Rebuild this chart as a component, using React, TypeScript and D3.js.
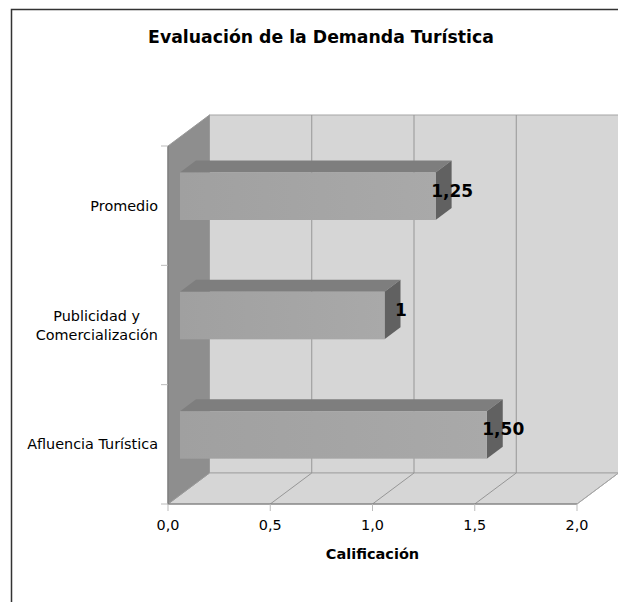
import React, { useEffect, useRef } from "react";
import * as d3 from "d3";

const categories = ["Promedio", "Publicidad y|Comercialización", "Afluencia Turística"];
const values = [1.25, 1, 1.5];
const valueLabels = ["1,25", "1", "1,50"];
const xTicks = [0, 0.5, 1, 1.5, 2];
const chartTitle = "Evaluación de la Demanda Turística";
const xTitle = "Calificación";

const FONT = "'DejaVu Sans', Verdana, sans-serif";

const App = () => {
  const svgRef = useRef<SVGSVGElement | null>(null);

  useEffect(() => {
    const svg = d3.select(svgRef.current);
    svg.selectAll("*").remove();

    const x = d3.scaleLinear().domain([0, 2]).range([168, 577]);
    const y = d3.scaleBand().domain(categories).range([146, 504]);
    const depthX = 41.5,
      depthY = 31;
    const barDepthX = 16,
      barDepthY = 12;
    const barStart = 12;
    const pts = (p: number[][]) => p.map((d) => d.join(",")).join(" ");

    const defs = svg.append("defs");
    const grad = defs.append("linearGradient").attr("id", "barFront");
    grad.append("stop").attr("offset", "0%").attr("stop-color", "#a0a0a0");
    grad.append("stop").attr("offset", "100%").attr("stop-color", "#a9a9a9");

    // page frame, open on the right and at the bottom
    svg
      .append("path")
      .attr("d", "M11.5,602V9.5H618")
      .attr("fill", "none")
      .attr("stroke", "#333")
      .attr("stroke-width", 1.5);

    svg
      .append("text")
      .attr("x", 321)
      .attr("y", 42.5)
      .attr("text-anchor", "middle")
      .attr("font-size", 17.3)
      .attr("font-weight", "bold")
      .text(chartTitle);

    const x0 = x(0),
      x1 = x(2),
      top = y.range()[0],
      bottom = y.range()[1];

    // back wall
    svg
      .append("rect")
      .attr("x", x0 + depthX)
      .attr("y", top - depthY)
      .attr("width", x1 - x0)
      .attr("height", bottom - top)
      .attr("fill", "#d6d6d6")
      .attr("stroke", "#a6a6a6");
    // floor
    svg
      .append("polygon")
      .attr(
        "points",
        pts([
          [x0, bottom],
          [x1, bottom],
          [x1 + depthX, bottom - depthY],
          [x0 + depthX, bottom - depthY],
        ])
      )
      .attr("fill", "#d6d6d6")
      .attr("stroke", "#a6a6a6");
    // left wall
    svg
      .append("polygon")
      .attr(
        "points",
        pts([
          [x0, top],
          [x0 + depthX, top - depthY],
          [x0 + depthX, bottom - depthY],
          [x0, bottom],
        ])
      )
      .attr("fill", "#8e8e8e")
      .attr("stroke", "#999");

    // gridlines on wall and floor
    svg
      .selectAll("path.grid")
      .data(xTicks.slice(1))
      .enter()
      .append("path")
      .attr("class", "grid")
      .attr("fill", "none")
      .attr("stroke", (d) => (d === 2 ? "#a6a6a6" : "#969696"))
      .attr(
        "d",
        (d) =>
          `M${x(d)},${bottom}L${x(d) + depthX},${bottom - depthY}V${top - depthY}`
      );

    // axis lines and ticks
    svg
      .append("path")
      .attr("d", `M${x0},${top}V${bottom}H${x1}`)
      .attr("fill", "none")
      .attr("stroke", "#777")
      .attr("stroke-width", 1.2);

    const yTicks = [...categories.map((c) => y(c) as number), bottom];
    svg
      .selectAll("line.ytick")
      .data(yTicks)
      .enter()
      .append("line")
      .attr("class", "ytick")
      .attr("x1", x0 - 7)
      .attr("x2", x0)
      .attr("y1", (d) => d)
      .attr("y2", (d) => d)
      .attr("stroke", "#bbb");

    svg
      .selectAll("line.xtick")
      .data(xTicks)
      .enter()
      .append("line")
      .attr("class", "xtick")
      .attr("x1", (d) => x(d))
      .attr("x2", (d) => x(d))
      .attr("y1", bottom)
      .attr("y2", bottom + 7)
      .attr("stroke", "#bbb");

    // bars
    const bar = svg
      .selectAll("g.bar")
      .data(categories)
      .enter()
      .append("g")
      .attr("class", "bar");

    const barLeft = x0 + barStart;
    const barRight = (i: number) => barLeft + x(values[i]) - x0;
    const barTop = (c: string) => (y(c) as number) + 26.5;
    const barH = 47.5;

    bar
      .append("polygon")
      .attr("points", (c, i) =>
        pts([
          [barLeft, barTop(c)],
          [barLeft + barDepthX, barTop(c) - barDepthY],
          [barRight(i) + barDepthX, barTop(c) - barDepthY],
          [barRight(i), barTop(c)],
        ])
      )
      .attr("fill", "#7e7e7e");
    bar
      .append("polygon")
      .attr("points", (c, i) =>
        pts([
          [barRight(i), barTop(c)],
          [barRight(i) + barDepthX, barTop(c) - barDepthY],
          [barRight(i) + barDepthX, barTop(c) + barH - barDepthY],
          [barRight(i), barTop(c) + barH],
        ])
      )
      .attr("fill", "#616161");
    bar
      .append("rect")
      .attr("x", barLeft)
      .attr("y", barTop)
      .attr("width", (c, i) => barRight(i) - barLeft)
      .attr("height", barH)
      .attr("fill", "url(#barFront)");

    bar
      .append("text")
      .attr("x", (c, i) => barRight(i) + barDepthX + 0.5)
      .attr("y", (c) => barTop(c) + 24)
      .attr("text-anchor", "middle")
      .attr("font-size", 17)
      .attr("font-weight", "bold")
      .text((c, i) => valueLabels[i]);

    // category labels
    svg
      .selectAll("text.cat")
      .data(categories)
      .enter()
      .append("text")
      .attr("class", "cat")
      .attr("text-anchor", "end")
      .attr("font-size", 14.4)
      .each(function (c) {
        const lines = c.split("|");
        const mid = (y(c) as number) + y.bandwidth() / 2 + 5;
        const t = d3.select(this);
        lines.forEach((line, k) => {
          t.append("tspan")
            .attr("x", lines.length > 1 && k === 0 ? 140 : 158)
            .attr("y", mid + (k - (lines.length - 1) / 2) * 19)
            .text(line);
        });
      });

    svg
      .selectAll("text.xlab")
      .data(xTicks)
      .enter()
      .append("text")
      .attr("class", "xlab")
      .attr("x", (d) => x(d))
      .attr("y", 529.5)
      .attr("text-anchor", "middle")
      .attr("font-size", 14.4)
      .text((d) => d3.format(".1f")(d).replace(".", ","));

    svg
      .append("text")
      .attr("x", 372.5)
      .attr("y", 558.5)
      .attr("text-anchor", "middle")
      .attr("font-size", 14.5)
      .attr("font-weight", "bold")
      .text(xTitle);
  }, []);

  return (
    <svg
      ref={svgRef}
      width={618}
      height={602}
      style={{ position: "absolute", left: 0, top: 0, background: "#fff", fontFamily: FONT }}
    ></svg>
  );
};

export default App;
